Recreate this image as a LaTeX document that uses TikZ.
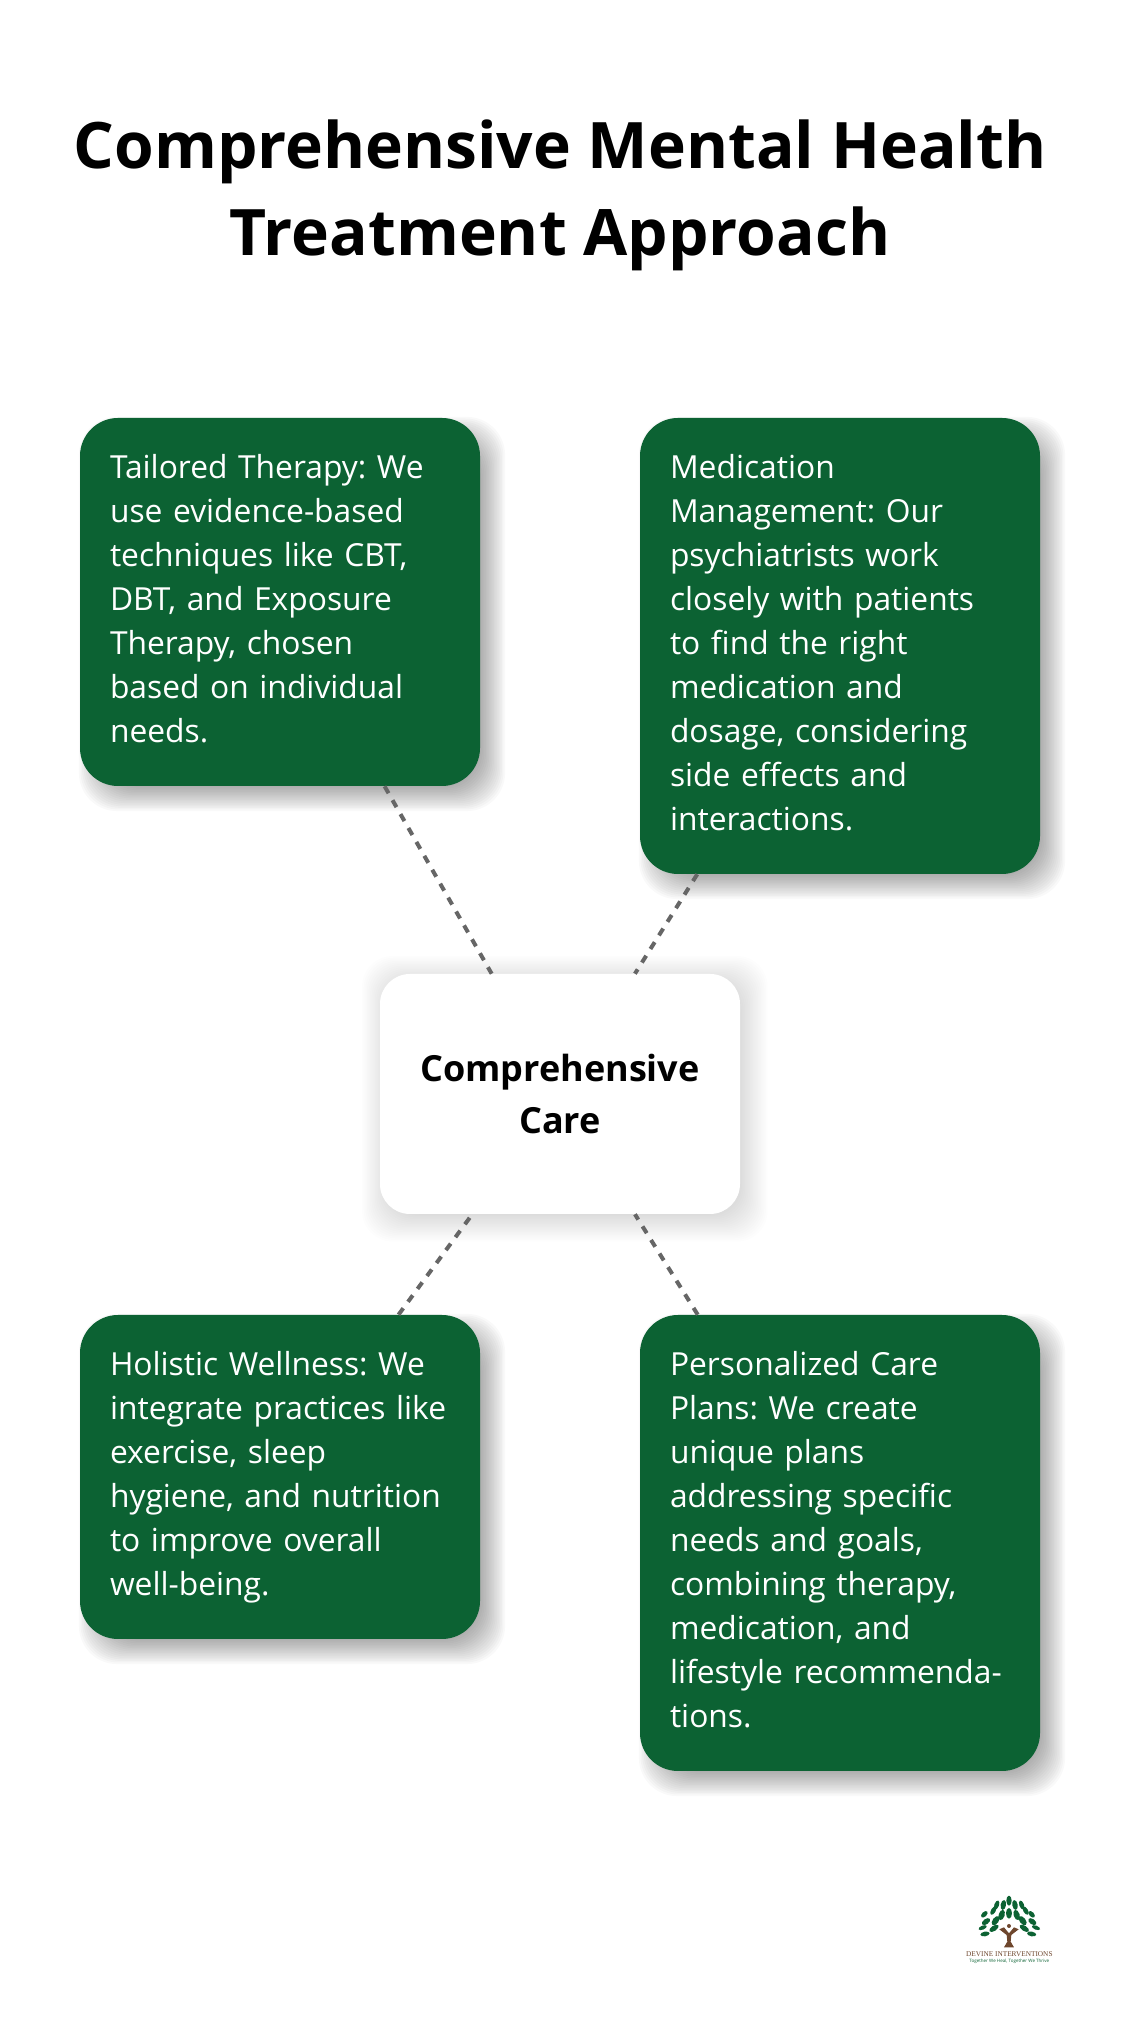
\documentclass[tikz,border=0pt]{standalone}
\usepackage{fontspec}
\setmainfont{Open Sans}
\newfontfamily\logofont{Liberation Serif}
\usetikzlibrary{backgrounds,calc}

\definecolor{cardgreen}{RGB}{12,98,51}
\definecolor{linegray}{RGB}{102,102,102}
\definecolor{logobrown}{RGB}{110,70,45}

\tikzset{
  card/.style={rectangle, fill=cardgreen, text=white, rounded corners=0.95cm, text width=8.5cm,
    inner xsep=0.75cm, inner ysep=0pt, align=left, font=\fontsize{22.6}{31.3}\selectfont\frenchspacing,
    execute at begin node=\strut, execute at end node=\strut},
  hub/.style={rectangle, fill=white, rounded corners=0.75cm, minimum width=9cm, minimum height=6cm,
    align=center, font=\fontsize{25.6}{36.4}\selectfont\bfseries},
  link/.style={draw=linegray, line width=2.85pt, dash pattern=on 5.7pt off 5.7pt},
  leaf/.style={fill=cardgreen}
}

% stacked see-through rectangles give the soft shadow
\newcommand{\softshadow}[6]{%
  \begin{scope}[on background layer]
    \foreach \grow in {#4} {
      \fill[black, opacity=#5, rounded corners=#6]
        ($(#1.south west)+(#2-\grow,#3-\grow)$) rectangle ($(#1.north east)+(#2+\grow,#3+\grow)$);
    }
  \end{scope}}

\begin{document}
\begin{tikzpicture}
  \useasboundingbox (0,0) rectangle (28,50.75);

  \node[font=\fontsize{45.6}{61.8}\selectfont\bfseries, align=center] (title) at (14,45.86)
    {Comprehensive Mental Health\\Treatment Approach};

  \node[card, minimum height=9.2cm] (therapy) at (7,35.7)
    {Tailored Therapy: We\\use evidence-based\\techniques like CBT,\\DBT, and Exposure\\Therapy, chosen\\based on individual\\needs.};
  \node[card, minimum height=11.4cm] (medication) at (21,34.6)
    {Medication\\Management: Our\\psychiatrists work\\closely with patients\\to find the right\\medication and\\dosage, considering\\side effects and\\interactions.};
  \node[hub] (care) at (14,23.4) {Comprehensive\\Care};
  \node[card, minimum height=8.1cm] (wellness) at (7,13.825)
    {Holistic Wellness: We\\integrate practices like\\exercise, sleep\\hygiene, and nutrition\\to improve overall\\well-being.};
  \node[card, minimum height=11.4cm] (plans) at (21,12.175)
    {Personalized Care\\Plans: We create\\unique plans\\addressing specific\\needs and goals,\\combining therapy,\\medication, and\\lifestyle recommenda-\\tions.};

  \draw[link] (therapy) -- (care);
  \draw[link] (medication) -- (care);
  \draw[link] (wellness) -- (care);
  \draw[link] (plans) -- (care);

  \softshadow{therapy}{0.3}{-0.3}{0.32,0.28,...,-0.32}{0.022}{0.95cm}
  \softshadow{medication}{0.3}{-0.3}{0.32,0.28,...,-0.32}{0.022}{0.95cm}
  \softshadow{wellness}{0.3}{-0.3}{0.32,0.28,...,-0.32}{0.022}{0.95cm}
  \softshadow{plans}{0.3}{-0.3}{0.32,0.28,...,-0.32}{0.022}{0.95cm}
  \softshadow{care}{0.12}{-0.12}{0.56,0.52,...,-0.2}{0.008}{0.75cm}

  % logo
  \begin{scope}[shift={(23.25,4)}, x=0.00833cm, y=-0.00833cm]
    \foreach \x/\y/\rx/\ry in {237/92/15/8, 200/105/14/7, 220/105/15/8, 255/105/15/8, 275/105/14/7,
        190/122/14/7, 287/122/14/7, 163/133/12/7, 305/133/12/7, 215/135/16/9, 237/130/16/9, 260/135/16/9,
        197/152/16/9, 278/152/16/9, 168/155/14/8, 307/155/14/8, 158/173/13/6, 318/173/13/6,
        192/175/16/8, 283/175/16/8, 165/192/14/7, 305/192/14/7} {
      \pgfmathsetmacro{\tilt}{atan2(\y-205,\x-237)}
      \fill[leaf, rotate around={\tilt:(\x,\y)}] (\x,\y) ellipse ({\rx} and {\ry});
    }
    \fill[logobrown] (222,232) -- (232,215) -- (230,195) -- (208,178) -- (222,172) -- (237,190)
      -- (252,172) -- (266,178) -- (244,195) -- (242,215) -- (252,232) -- cycle;
    \fill[logobrown] (237,168) circle (6);
    \node[text=logobrown, font=\logofont\fontsize{5.2}{6}\selectfont] (logoname) at (238,252) {DEVINE INTERVENTIONS};
    \node[text=cardgreen, font=\fontsize{3.2}{4}\selectfont] (logotag) at (238,275) {Together We Heal, Together We Thrive};
  \end{scope}
\end{tikzpicture}
\end{document}
